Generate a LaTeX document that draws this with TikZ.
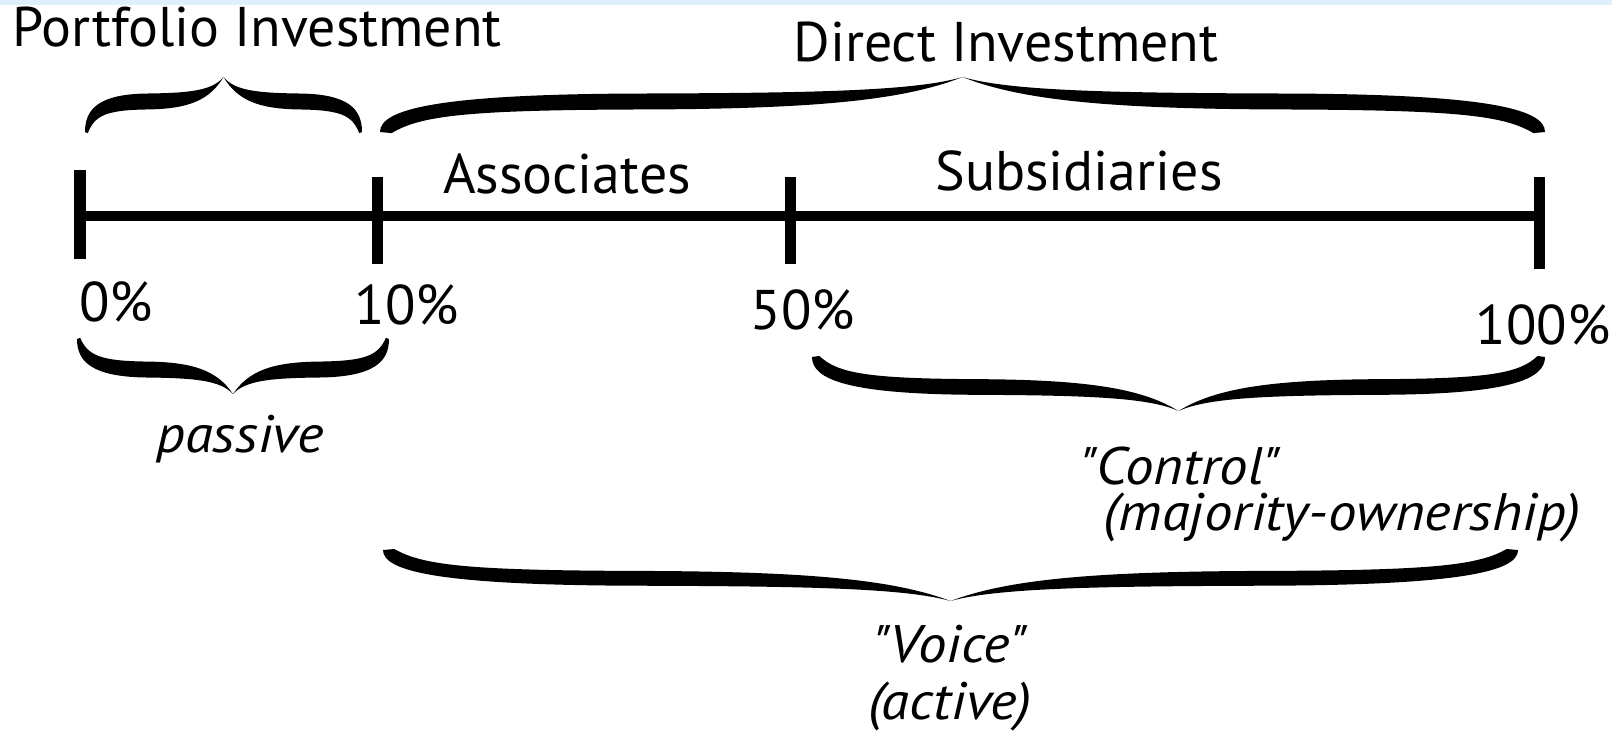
\documentclass[tikz,border=0pt]{standalone}
\usepackage{fontspec}
\setmainfont{PT Sans}[ItalicFeatures={FakeStretch=1.08}]
\usetikzlibrary{positioning}

\definecolor{bandblue}{RGB}{223,240,250}

\tikzset{
  heading/.style={font=\fontsize{15.9}{18}\selectfont, inner sep=0pt, anchor=base},
  remark/.style={heading, font=\fontsize{15}{18}\selectfont\itshape},
  axis/.style={line width=0.1cm},
  tickmark/.style={line width=0.11cm},
  half brace/.pic={
    \fill (0,0) .. controls (0.0,0.42) and (0.1,0.69) .. (0.45,0.70)
      .. controls (0.75,0.71) and (0.92,0.75) .. (1,1)
      .. controls (0.9,0.58) and (0.75,0.42) .. (0.45,0.41)
      .. controls (0.15,0.40) and (0.07,0.3) .. (0.02,-0.02) -- cycle;
  }
}

\begin{document}
\begin{tikzpicture}[x=0.01cm, y=-0.01cm]

    \useasboundingbox (0,0) rectangle (1612,732);
    \fill[bandblue] (0,0) rectangle (1612,5);

    % Declare the ticks
    \coordinate (t0)   at (80, 216);
    \coordinate (t10)  at (377, 216);
    \coordinate (t50)  at (790, 216);
    \coordinate (t100) at (1539, 216);
    \coordinate (t0top)   at (80, 170);
    \coordinate (t0bot)   at (80, 259);
    \coordinate (t10top)  at (377, 177);
    \coordinate (t10bot)  at (377, 264);
    \coordinate (t50top)  at (790, 177);
    \coordinate (t50bot)  at (790, 264);
    \coordinate (t100top) at (1539, 177);
    \coordinate (t100bot) at (1539, 269);

    % Declare the axis
    \draw[axis] (t0) -- (t100);
    \draw[tickmark] (t0top) -- (t0bot);
    \draw[tickmark] (t10top) -- (t10bot);
    \draw[tickmark] (t50top) -- (t50bot);
    \draw[tickmark] (t100top) -- (t100bot);

    % Declare the labels
    \node[heading] at (257, 46) (portfolio) {Portfolio Investment};
    \node[heading] at (1006, 61) (direct) {Direct Investment};
    \node[heading] at (567, 193) (assoc) {Associates};
    \node[heading] at (1079, 190) (subs) {Subsidiaries};
    \node[heading] at (116, 321) (p0) {0\%};
    \node[heading] at (407, 324) (p10) {10\%};
    \node[heading] at (803, 329) (p50) {50\%};
    \node[heading] at (1543, 344) (p100) {100\%};
    \node[remark] at (240, 452) (passive) {passive};
    \node[remark] at (1180, 484) (control) {\textquotedbl Control\textquotedbl};
    \node[remark] at (1342, 530) (majority) {(majority-ownership)};
    \node[remark] at (950, 662) (voice) {\textquotedbl Voice\textquotedbl};
    \node[remark] at (950, 719) (active) {(active)};

    % Declare the braces
    \pic[xscale=138.5, yscale=-55] at (85, 132) {half brace};
    \pic[xscale=-138.5, yscale=-55] at (362, 132) {half brace};
    \pic[xscale=582.5, yscale=-55] at (380, 132) {half brace};
    \pic[xscale=-582.5, yscale=-55] at (1545, 132) {half brace};
    \pic[xscale=156, yscale=55] at (77, 339) {half brace};
    \pic[xscale=-156, yscale=55] at (389, 339) {half brace};
    \pic[xscale=366.5, yscale=54] at (812, 357) {half brace};
    \pic[xscale=-366.5, yscale=54] at (1545, 357) {half brace};
    \pic[xscale=567.5, yscale=51] at (383, 550) {half brace};
    \pic[xscale=-567.5, yscale=51] at (1518, 550) {half brace};

\end{tikzpicture}
\end{document}
